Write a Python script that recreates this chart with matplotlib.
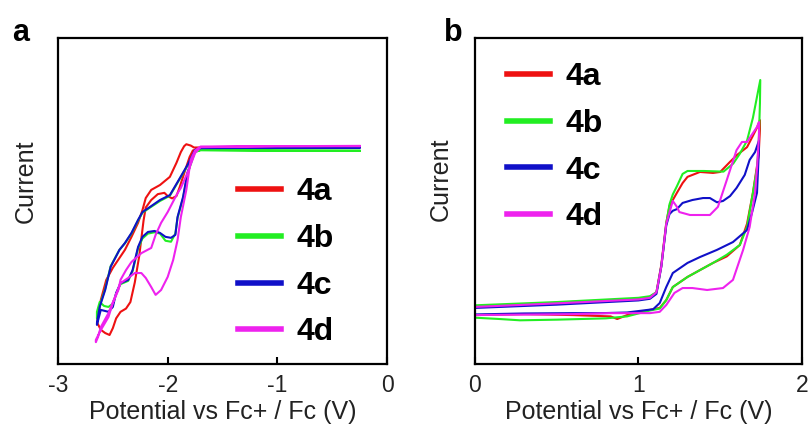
import matplotlib
matplotlib.use("Agg")
import matplotlib.pyplot as plt

plt.rcParams["font.family"] = ["Liberation Sans", "DejaVu Sans"]

labels = ["4a", "4b", "4c", "4d"]
colors = ["#ee1111", "#22ee22", "#1010c8", "#ee22ee"]

# ---- (a) reduction scans: potential (V) and current (a.u.), cathodic sweep then return ----
a_4a_E = [-0.25, -1.00, -1.70, -1.77, -1.80, -1.84, -1.89, -1.92, -1.96, -2.00, -2.03, -2.09, -2.15,
          -2.20, -2.22, -2.24, -2.26, -2.30, -2.34, -2.38, -2.43, -2.47, -2.50, -2.53, -2.57, -2.61,
          -2.64, -2.64, -2.61, -2.56, -2.50, -2.44, -2.39, -2.33, -2.27, -2.23, -2.20, -2.15, -2.07,
          -1.98, -1.92, -1.88, -1.85, -1.83, -1.79, -1.76, -1.00, -0.25]
a_4a_I = [66.5, 66.4, 66.2, 65.5, 63.5, 59.5, 54.3, 51.5, 50.8, 51.5, 52.5, 52.1, 50.3,
          48.0, 44.0, 38.5, 33.0, 25.0, 19.0, 17.0, 16.0, 14.0, 11.0, 8.9, 9.5, 10.5,
          12.5, 13.5, 19.6, 25.8, 29.5, 32.5, 35.0, 39.0, 43.3, 47.2, 50.9, 53.4, 54.9,
          57.4, 61.7, 65.0, 66.8, 67.4, 67.0, 66.4, 66.5, 66.6]

a_4b_E = [-0.25, -1.00, -1.70, -1.75, -1.82, -1.86, -1.91, -1.93, -1.97, -2.02, -2.07, -2.12, -2.18,
          -2.23, -2.27, -2.32, -2.36, -2.43, -2.47, -2.50, -2.54, -2.58, -2.62, -2.645, -2.645,
          -2.62, -2.57, -2.52, -2.44, -2.39, -2.33, -2.27, -2.23, -2.16, -2.07, -1.98, -1.91,
          -1.82, -1.75, -1.70, -1.00, -0.25]
a_4b_I = [65.4, 65.5, 65.6, 65.3, 58.2, 50.8, 44.8, 40.0, 37.5, 37.8, 40.0, 40.4, 40.0,
          38.5, 35.5, 28.5, 25.5, 24.5, 21.5, 18.5, 17.5, 17.8, 19.0, 16.0, 14.0,
          18.0, 23.0, 30.0, 35.0, 37.0, 40.0, 44.0, 46.4, 48.0, 50.0, 51.6, 55.6,
          60.8, 65.0, 65.6, 65.4, 65.4]

a_4c_E = [-0.25, -1.00, -1.70, -1.75, -1.82, -1.86, -1.91, -1.93, -1.97, -2.02, -2.07, -2.12, -2.18,
          -2.23, -2.27, -2.32, -2.36, -2.43, -2.47, -2.50, -2.54, -2.61, -2.645, -2.645,
          -2.62, -2.57, -2.52, -2.44, -2.39, -2.33, -2.27, -2.23, -2.16, -2.07, -1.98, -1.91,
          -1.82, -1.75, -1.70, -1.00, -0.25]
a_4c_I = [66.3, 66.3, 66.2, 65.6, 58.6, 51.2, 45.1, 39.6, 38.7, 39.0, 40.2, 40.8, 40.5,
          39.0, 35.9, 28.8, 25.8, 24.8, 21.8, 17.5, 16.0, 16.6, 12.0, 12.6,
          17.5, 22.7, 29.8, 35.0, 37.1, 40.2, 44.2, 46.6, 48.2, 50.3, 51.8, 55.8,
          61.0, 65.6, 66.3, 66.4, 66.5]

a_4d_E = [-0.25, -1.00, -1.70, -1.75, -1.79, -1.83, -1.88, -1.91, -1.95, -2.00, -2.06, -2.11, -2.15,
          -2.20, -2.24, -2.30, -2.36, -2.43, -2.48, -2.54, -2.61, -2.635, -2.655, -2.655, -2.61,
          -2.54, -2.50, -2.45, -2.43, -2.38, -2.33, -2.24, -2.15, -2.11, -2.06, -2.00, -1.92,
          -1.88, -1.82, -1.75, -1.70, -1.00, -0.25]
a_4d_I = [66.8, 66.8, 66.7, 65.5, 62.6, 53.4, 45.1, 38.0, 31.9, 26.7, 22.7, 21.2, 23.6,
          26.4, 27.9, 27.9, 26.4, 24.8, 20.6, 15.6, 11.3, 8.3, 6.7, 7.4, 10.4,
          14.4, 18.7, 22.7, 25.8, 28.8, 31.3, 34.0, 35.6, 39.6, 43.3, 46.6, 51.8,
          54.0, 58.6, 64.7, 66.5, 66.8, 66.9]

# ---- (b) oxidation scans: anodic sweep then return ----
b_4a_E = [0.00, 0.50, 1.00, 1.07, 1.11, 1.14, 1.17, 1.19, 1.21, 1.235, 1.27, 1.30, 1.376, 1.456,
          1.50, 1.56, 1.60, 1.664, 1.70, 1.725, 1.743, 1.743, 1.735, 1.70, 1.664, 1.62, 1.54,
          1.456, 1.376, 1.30, 1.21, 1.17, 1.13, 1.07, 0.93, 0.87, 0.83, 0.60, 0.30, 0.00]
b_4a_I = [17.6, 18.8, 20.0, 20.5, 22.0, 30.5, 43.3, 48.5, 50.3, 52.5, 55.5, 57.4, 58.9, 58.6,
          58.9, 62.0, 64.0, 66.5, 70.0, 72.5, 74.8, 72.0, 64.0, 52.5, 43.0, 36.5, 33.0,
          31.0, 28.8, 26.7, 23.6, 19.6, 17.2, 16.6, 15.0, 13.8, 14.6, 15.0, 15.3, 15.0]

b_4b_E = [0.00, 0.50, 1.00, 1.07, 1.11, 1.14, 1.17, 1.19, 1.21, 1.235, 1.27, 1.30, 1.40, 1.52,
          1.58, 1.62, 1.664, 1.70, 1.745, 1.743, 1.735, 1.725, 1.70, 1.664, 1.62, 1.54, 1.456,
          1.376, 1.30, 1.21, 1.17, 1.13, 1.07, 0.93, 0.80, 0.50, 0.275, 0.15, 0.00]
b_4b_I = [18.0, 19.0, 20.3, 20.8, 22.0, 30.0, 43.0, 49.0, 52.0, 54.5, 58.3, 59.2, 59.2, 59.0,
          61.5, 64.5, 68.5, 75.5, 87.1, 80.0, 67.0, 60.0, 52.5, 42.0, 36.5, 33.5, 31.0,
          28.8, 26.7, 23.6, 19.6, 17.0, 16.4, 14.6, 14.0, 13.6, 13.4, 13.8, 14.2]

b_4c_E = [0.00, 0.50, 1.00, 1.07, 1.11, 1.14, 1.17, 1.19, 1.21, 1.235, 1.27, 1.33, 1.395, 1.437,
          1.48, 1.517, 1.56, 1.60, 1.65, 1.68, 1.713, 1.737, 1.737, 1.725, 1.694, 1.664, 1.578,
          1.48, 1.376, 1.30, 1.21, 1.17, 1.13, 1.09, 0.93, 0.78, 0.60, 0.30, 0.00]
b_4c_I = [17.2, 18.2, 19.5, 20.0, 21.5, 30.0, 42.5, 46.0, 47.0, 47.5, 49.4, 50.3, 50.9, 50.9,
          49.6, 50.0, 51.5, 54.0, 58.0, 62.6, 65.0, 68.5, 66.0, 52.5, 46.3, 41.1, 37.4,
          35.0, 32.8, 31.0, 27.9, 23.6, 18.7, 16.8, 15.8, 15.6, 15.6, 15.5, 15.2]

b_4d_E = [0.00, 0.50, 1.00, 1.07, 1.11, 1.14, 1.17, 1.21, 1.235, 1.25, 1.315, 1.376, 1.437,
          1.486, 1.54, 1.60, 1.633, 1.664, 1.725, 1.737, 1.737, 1.725, 1.713, 1.68, 1.64, 1.578,
          1.517, 1.42, 1.33, 1.27, 1.22, 1.17, 1.13, 1.07, 0.83, 0.60, 0.00]
b_4d_I = [17.5, 18.6, 19.8, 20.3, 22.0, 30.0, 43.0, 50.0, 48.2, 46.6, 45.7, 45.7, 45.7,
          48.2, 56.4, 65.6, 68.1, 68.1, 72.7, 74.2, 70.0, 60.0, 52.5, 42.0, 35.0, 25.8,
          23.3, 22.7, 23.3, 23.3, 21.8, 18.1, 16.0, 15.6, 15.6, 15.3, 15.0]

panel_a = [(a_4a_E, a_4a_I), (a_4b_E, a_4b_I), (a_4c_E, a_4c_I), (a_4d_E, a_4d_I)]
panel_b = [(b_4a_E, b_4a_I), (b_4b_E, b_4b_I), (b_4c_E, b_4c_I), (b_4d_E, b_4d_I)]

xticks_a = [-3, -2, -1, 0]
xticks_b = [0, 1, 2]

text_color = "#222222"

fig = plt.figure(figsize=(8.09, 4.24), dpi=100)
ax_a = fig.add_axes([0.0717, 0.1415, 0.4067, 0.769])
ax_b = fig.add_axes([0.5871, 0.1415, 0.4042, 0.769])


def draw_panel(ax, data, xlim, xticks, legend_anchor):
    lines = []
    for (E, I), c, lab in zip(data, colors, labels):
        ln, = ax.plot(E, I, color=c, lw=1.5, label=lab, solid_joinstyle="round")
        lines.append(ln)
    ax.set_xlim(*xlim)
    ax.set_ylim(0, 100)
    ax.set_xticks(xticks)
    ax.set_xticklabels([str(t) for t in xticks])
    ax.set_yticks([])
    ax.tick_params(axis="x", direction="in", length=5, width=1.5, labelsize=16.5, pad=7,
                   labelcolor=text_color)
    for s in ax.spines.values():
        s.set_linewidth(1.6)
    ax.set_xlabel("Potential vs Fc+ / Fc (V)", fontsize=18, color=text_color)
    ax.set_ylabel("Current", fontsize=18, color=text_color)
    leg = ax.legend(handles=lines, loc="upper left", bbox_to_anchor=legend_anchor,
                    frameon=False, borderpad=0, borderaxespad=0,
                    handlelength=1.34, handletextpad=0.5, labelspacing=0.52,
                    prop={"size": 23, "weight": "bold"})
    for h in leg.legend_handles:
        h.set_linewidth(4)
    return leg


draw_panel(ax_a, panel_a, (-3, 0), xticks_a, (0.547, 0.572))
draw_panel(ax_b, panel_b, (0, 2), xticks_b, (0.098, 0.925))

ax_a.yaxis.set_label_coords(-0.062, 0.561)
ax_b.yaxis.set_label_coords(-0.068, 0.567)
for ax in (ax_a, ax_b):
    ax.xaxis.set_label_coords(0.5, -0.11)

fig.text(0.025, 0.922, "a", fontsize=22, fontweight="bold", ha="center", va="center")
fig.text(0.560, 0.922, "b", fontsize=22, fontweight="bold", ha="center", va="center")

fig.savefig("out.png", dpi=100)
